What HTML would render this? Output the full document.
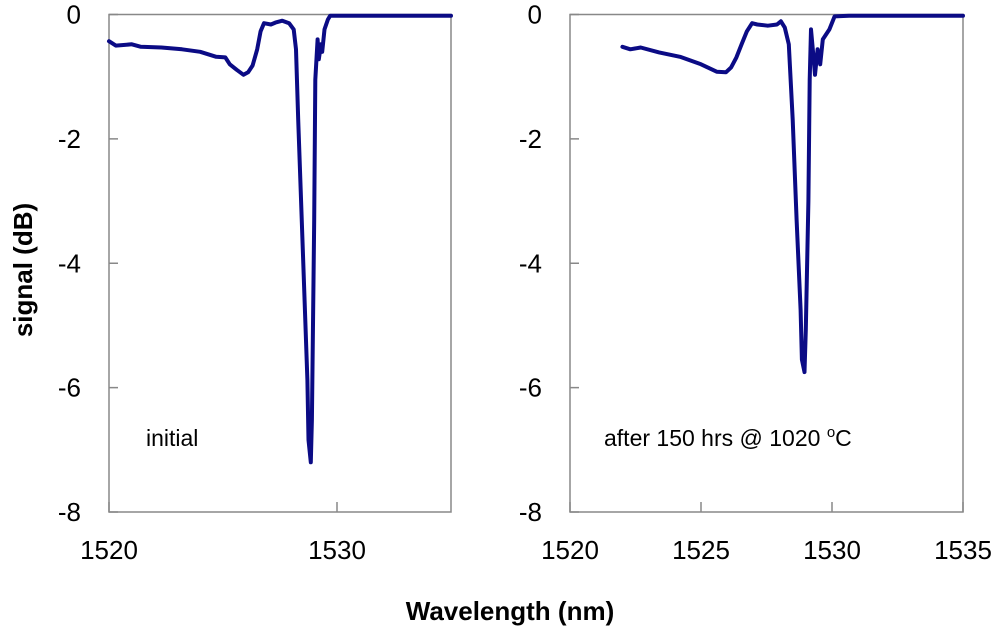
<!DOCTYPE html>
<html><head><meta charset="utf-8"><style>
html,body{margin:0;padding:0;background:#fff}
svg text{font-family:"Liberation Sans",Arial,sans-serif;fill:#000}
</style></head><body>
<svg id="chart" width="1000" height="636" viewBox="0 0 1000 636" xmlns="http://www.w3.org/2000/svg">
<g id="root"></g>
<text x="0" y="0" transform="translate(32,270) rotate(-90)" text-anchor="middle" font-size="26" font-weight="bold">signal (dB)</text>
<text x="510" y="620" text-anchor="middle" font-size="26" font-weight="bold">Wavelength (nm)</text>
<text x="146" y="446" font-size="23">initial</text>
<text x="604" y="446" font-size="23">after 150 hrs @ 1020 <tspan font-size="15" dy="-9">o</tspan><tspan dy="9">C</tspan></text>
</svg>
<script>
const yTicks=[0,-2,-4,-6,-8];
const leftXTicks=[1520,1530];
const rightXTicks=[1520,1525,1530,1535];
const leftWl=[1520,1520.3,1521,1521.4,1522.3,1523.2,1524.0,1524.7,1525.1,1525.3,1525.6,1525.9,1526.1,1526.3,1526.5,1526.65,1526.8,1527.1,1527.3,1527.6,1527.9,1528.1,1528.2,1528.3,1528.5,1528.7,1528.75,1528.85,1528.9,1529.0,1529.05,1529.15,1529.2,1529.3,1529.35,1529.45,1529.6,1529.7,1529.8,1530.2,1535];
const leftVal=[-0.43,-0.5,-0.48,-0.52,-0.53,-0.56,-0.6,-0.68,-0.69,-0.8,-0.89,-0.97,-0.93,-0.82,-0.56,-0.27,-0.14,-0.16,-0.13,-0.1,-0.14,-0.24,-0.56,-1.69,-3.78,-5.88,-6.84,-7.2,-6.52,-3.3,-1.05,-0.4,-0.72,-0.48,-0.6,-0.24,-0.08,-0.02,-0.02,-0.02,-0.02];
const rightWl=[1522,1522.3,1522.7,1523.4,1524.2,1525.0,1525.6,1525.95,1526.15,1526.35,1526.55,1526.75,1526.95,1527.15,1527.55,1527.9,1528.05,1528.2,1528.35,1528.5,1528.65,1528.8,1528.85,1528.95,1529.0,1529.1,1529.15,1529.2,1529.3,1529.35,1529.45,1529.55,1529.65,1529.9,1530.1,1530.65,1532.6,1535];
const rightVal=[-0.52,-0.56,-0.53,-0.61,-0.68,-0.8,-0.92,-0.93,-0.85,-0.69,-0.48,-0.27,-0.14,-0.16,-0.18,-0.16,-0.11,-0.21,-0.48,-1.69,-3.3,-4.75,-5.55,-5.75,-5.07,-3.0,-1.05,-0.24,-0.72,-0.97,-0.56,-0.8,-0.4,-0.24,-0.03,-0.02,-0.02,-0.02];
const NS='http://www.w3.org/2000/svg';
const root=document.getElementById('root');
function mk(tag,attrs){const e=document.createElementNS(NS,tag);for(const k in attrs)e.setAttribute(k,attrs[k]);root.appendChild(e);return e;}
const yTop=14.5,yBot=512;
function ys(v){return yTop+(0-v)/8*(yBot-yTop);}
function panel(name,x0,x1,xTicks,wl,val){
  const xs=w=>x0+(w-1520)/15*(x1-x0);
  const fr=mk('rect',{x:x0,y:yTop,width:x1-x0,height:yBot-yTop,fill:'none',stroke:'#888','stroke-width':1.5});
  
  
  yTicks.forEach(t=>{
    const l=mk('line',{x1:x0,x2:x0+9,y1:ys(t),y2:ys(t),stroke:'#888','stroke-width':1.5});
    
    
    const tx=mk('text',{x:x0-28,y:ys(t)+9,'text-anchor':'end','font-size':26});
    tx.textContent=String(t);
    
    
  });
  xTicks.forEach(t=>{
    const l=mk('line',{x1:xs(t),x2:xs(t),y1:yBot,y2:yBot-10,stroke:'#888','stroke-width':1.5});
    
    
    const tx=mk('text',{x:xs(t),y:yBot+47,'text-anchor':'middle','font-size':26});
    tx.textContent=String(t);
    
    
  });
  const d=wl.map((w,i)=>(i?'L':'M')+xs(w).toFixed(1)+','+ys(val[i]).toFixed(1)).join('');
  const p=mk('path',{d:d,fill:'none',stroke:'#0b0b85','stroke-width':4,'stroke-linejoin':'round','stroke-linecap':'round'});
  
  
}
panel('left',109,451,leftXTicks,leftWl,leftVal);
panel('right',570,963,rightXTicks,rightWl,rightVal);
</script>
</body></html>
